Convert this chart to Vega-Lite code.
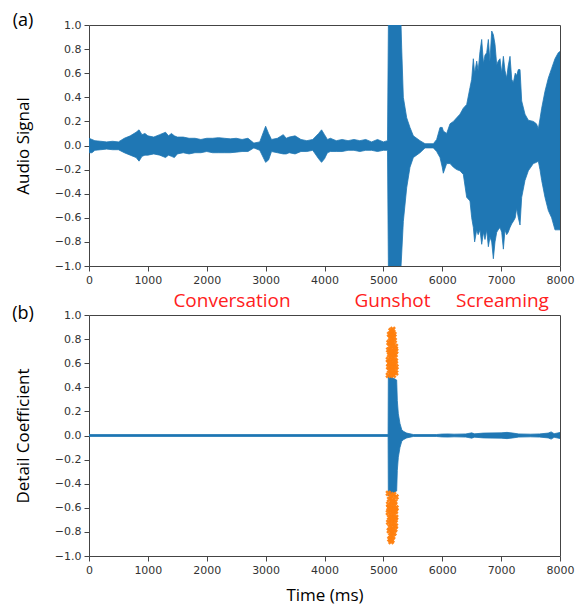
{
  "$schema": "https://vega.github.io/schema/vega-lite/v6.json",
  "padding": {"left": 11, "top": 11, "right": 0, "bottom": 0},
  "autosize": {"type": "pad"},
  "background": "white",
  "spacing": 49,
  "bounds": "flush",
  "config": {
    "view": {"stroke": "#444", "strokeWidth": 1},
    "axis": {
      "domain": false,
      "grid": false,
      "ticks": true,
      "tickColor": "#444",
      "tickSize": 5,
      "labelFont": "DejaVu Sans",
      "labelFontSize": 11,
      "labelColor": "#333",
      "labelPadding": 3,
      "labelOverlap": false,
      "labelFlush": false,
      "labelBound": false,
      "titleFont": "Open Sans",
      "titleFontSize": 17,
      "titleFontWeight": "normal",
      "titleColor": "#000"
    },
    "axisY": {"labelOverlap": false}
  },
  "datasets": {
    "audio": [
      {"t": 0, "hi": 0.06, "lo": -0.06},
      {"t": 50, "hi": 0.05, "lo": -0.06},
      {"t": 100, "hi": 0.04, "lo": -0.04},
      {"t": 200, "hi": 0.035, "lo": -0.035},
      {"t": 300, "hi": 0.03, "lo": -0.03},
      {"t": 400, "hi": 0.035, "lo": -0.035},
      {"t": 500, "hi": 0.03, "lo": -0.035},
      {"t": 600, "hi": 0.06, "lo": -0.06},
      {"t": 700, "hi": 0.08, "lo": -0.08},
      {"t": 800, "hi": 0.11, "lo": -0.1},
      {"t": 850, "hi": 0.13, "lo": -0.13},
      {"t": 900, "hi": 0.09, "lo": -0.09},
      {"t": 950, "hi": 0.1, "lo": -0.08},
      {"t": 1000, "hi": 0.08, "lo": -0.08},
      {"t": 1100, "hi": 0.07, "lo": -0.07},
      {"t": 1200, "hi": 0.09, "lo": -0.08},
      {"t": 1300, "hi": 0.11, "lo": -0.1},
      {"t": 1350, "hi": 0.08, "lo": -0.08},
      {"t": 1400, "hi": 0.1, "lo": -0.09},
      {"t": 1450, "hi": 0.08, "lo": -0.1},
      {"t": 1500, "hi": 0.07, "lo": -0.07},
      {"t": 1600, "hi": 0.07, "lo": -0.06},
      {"t": 1700, "hi": 0.06, "lo": -0.07},
      {"t": 1800, "hi": 0.06, "lo": -0.06},
      {"t": 1900, "hi": 0.05, "lo": -0.06},
      {"t": 2000, "hi": 0.06, "lo": -0.05},
      {"t": 2100, "hi": 0.06, "lo": -0.06},
      {"t": 2200, "hi": 0.065, "lo": -0.06},
      {"t": 2300, "hi": 0.06, "lo": -0.06},
      {"t": 2400, "hi": 0.055, "lo": -0.06},
      {"t": 2500, "hi": 0.06, "lo": -0.055},
      {"t": 2600, "hi": 0.05, "lo": -0.05},
      {"t": 2700, "hi": 0.06, "lo": -0.05},
      {"t": 2800, "hi": 0.02, "lo": -0.02},
      {"t": 2900, "hi": 0.03, "lo": -0.04},
      {"t": 3000, "hi": 0.16, "lo": -0.14},
      {"t": 3050, "hi": 0.1, "lo": -0.12},
      {"t": 3100, "hi": 0.05, "lo": -0.05},
      {"t": 3200, "hi": 0.06, "lo": -0.06},
      {"t": 3300, "hi": 0.09, "lo": -0.07},
      {"t": 3350, "hi": 0.06, "lo": -0.07},
      {"t": 3400, "hi": 0.07, "lo": -0.06},
      {"t": 3500, "hi": 0.08, "lo": -0.07},
      {"t": 3600, "hi": 0.05, "lo": -0.05},
      {"t": 3700, "hi": 0.04, "lo": -0.05},
      {"t": 3800, "hi": 0.05, "lo": -0.04},
      {"t": 3900, "hi": 0.1, "lo": -0.11},
      {"t": 3950, "hi": 0.13, "lo": -0.14},
      {"t": 4000, "hi": 0.09, "lo": -0.11},
      {"t": 4050, "hi": 0.05, "lo": -0.06},
      {"t": 4100, "hi": 0.06, "lo": -0.05},
      {"t": 4200, "hi": 0.04, "lo": -0.05},
      {"t": 4300, "hi": 0.05, "lo": -0.05},
      {"t": 4400, "hi": 0.04, "lo": -0.04},
      {"t": 4500, "hi": 0.05, "lo": -0.04},
      {"t": 4600, "hi": 0.04, "lo": -0.05},
      {"t": 4700, "hi": 0.05, "lo": -0.04},
      {"t": 4800, "hi": 0.03, "lo": -0.04},
      {"t": 4900, "hi": 0.05, "lo": -0.05},
      {"t": 5000, "hi": 0.03, "lo": -0.04},
      {"t": 5070, "hi": 0.04, "lo": -0.04},
      {"t": 5085, "hi": 1.0, "lo": -1.0},
      {"t": 5300, "hi": 1.0, "lo": -1.0},
      {"t": 5311, "hi": 0.81, "lo": -0.9},
      {"t": 5339, "hi": 0.4, "lo": -0.63},
      {"t": 5396, "hi": 0.23, "lo": -0.35},
      {"t": 5452, "hi": 0.15, "lo": -0.18},
      {"t": 5509, "hi": 0.08, "lo": -0.1},
      {"t": 5622, "hi": 0.04, "lo": -0.06},
      {"t": 5707, "hi": 0.015, "lo": -0.02},
      {"t": 5849, "hi": 0.015, "lo": -0.02},
      {"t": 5905, "hi": 0.05, "lo": -0.05},
      {"t": 5962, "hi": 0.15, "lo": -0.1},
      {"t": 6000, "hi": 0.15, "lo": -0.18},
      {"t": 6018, "hi": 0.12, "lo": -0.23},
      {"t": 6075, "hi": 0.1, "lo": -0.15},
      {"t": 6132, "hi": 0.18, "lo": -0.15},
      {"t": 6190, "hi": 0.2, "lo": -0.18},
      {"t": 6245, "hi": 0.23, "lo": -0.2},
      {"t": 6301, "hi": 0.26, "lo": -0.21},
      {"t": 6358, "hi": 0.31, "lo": -0.24},
      {"t": 6415, "hi": 0.34, "lo": -0.43},
      {"t": 6471, "hi": 0.48, "lo": -0.46},
      {"t": 6500, "hi": 0.55, "lo": -0.6},
      {"t": 6528, "hi": 0.72, "lo": -0.68},
      {"t": 6550, "hi": 0.6, "lo": -0.8},
      {"t": 6585, "hi": 0.7, "lo": -0.7},
      {"t": 6610, "hi": 0.62, "lo": -0.74},
      {"t": 6641, "hi": 0.78, "lo": -0.7},
      {"t": 6670, "hi": 0.88, "lo": -0.82},
      {"t": 6700, "hi": 0.68, "lo": -0.72},
      {"t": 6726, "hi": 0.75, "lo": -0.78},
      {"t": 6755, "hi": 0.77, "lo": -0.7},
      {"t": 6783, "hi": 0.88, "lo": -0.84},
      {"t": 6810, "hi": 0.7, "lo": -0.76},
      {"t": 6840, "hi": 0.95, "lo": -0.8},
      {"t": 6868, "hi": 0.92, "lo": -0.94},
      {"t": 6896, "hi": 0.84, "lo": -0.8},
      {"t": 6925, "hi": 0.67, "lo": -0.72},
      {"t": 6950, "hi": 0.7, "lo": -0.7},
      {"t": 6981, "hi": 0.72, "lo": -0.68},
      {"t": 7010, "hi": 0.6, "lo": -0.72},
      {"t": 7038, "hi": 0.74, "lo": -0.86},
      {"t": 7066, "hi": 0.62, "lo": -0.7},
      {"t": 7094, "hi": 0.56, "lo": -0.74},
      {"t": 7120, "hi": 0.66, "lo": -0.72},
      {"t": 7151, "hi": 0.74, "lo": -0.68},
      {"t": 7180, "hi": 0.55, "lo": -0.65},
      {"t": 7207, "hi": 0.52, "lo": -0.63},
      {"t": 7240, "hi": 0.6, "lo": -0.6},
      {"t": 7264, "hi": 0.58, "lo": -0.52},
      {"t": 7292, "hi": 0.63, "lo": -0.6},
      {"t": 7321, "hi": 0.63, "lo": -0.66},
      {"t": 7349, "hi": 0.37, "lo": -0.43},
      {"t": 7405, "hi": 0.26, "lo": -0.29},
      {"t": 7462, "hi": 0.21, "lo": -0.21},
      {"t": 7547, "hi": 0.2, "lo": -0.15},
      {"t": 7600, "hi": 0.18, "lo": -0.14},
      {"t": 7632, "hi": 0.14, "lo": -0.13},
      {"t": 7660, "hi": 0.22, "lo": -0.2},
      {"t": 7689, "hi": 0.31, "lo": -0.29},
      {"t": 7745, "hi": 0.45, "lo": -0.43},
      {"t": 7802, "hi": 0.56, "lo": -0.54},
      {"t": 7858, "hi": 0.64, "lo": -0.6},
      {"t": 7915, "hi": 0.72, "lo": -0.7},
      {"t": 7971, "hi": 0.77, "lo": -0.7},
      {"t": 8000, "hi": 0.78, "lo": -0.7}
    ],
    "detail": [
      {"t": 0, "hi": 0.008, "lo": -0.008},
      {"t": 5080, "hi": 0.008, "lo": -0.008},
      {"t": 5084, "hi": 0.5, "lo": -0.5},
      {"t": 5226, "hi": 0.46, "lo": -0.46},
      {"t": 5237, "hi": 0.29, "lo": -0.29},
      {"t": 5254, "hi": 0.18, "lo": -0.18},
      {"t": 5282, "hi": 0.1, "lo": -0.1},
      {"t": 5311, "hi": 0.05, "lo": -0.05},
      {"t": 5339, "hi": 0.035, "lo": -0.035},
      {"t": 5396, "hi": 0.02, "lo": -0.02},
      {"t": 5509, "hi": 0.008, "lo": -0.008},
      {"t": 5900, "hi": 0.008, "lo": -0.008},
      {"t": 6000, "hi": 0.012, "lo": -0.012},
      {"t": 6100, "hi": 0.013, "lo": -0.013},
      {"t": 6200, "hi": 0.011, "lo": -0.011},
      {"t": 6400, "hi": 0.013, "lo": -0.013},
      {"t": 6500, "hi": 0.022, "lo": -0.022},
      {"t": 6550, "hi": 0.014, "lo": -0.014},
      {"t": 6700, "hi": 0.02, "lo": -0.02},
      {"t": 7000, "hi": 0.022, "lo": -0.022},
      {"t": 7100, "hi": 0.026, "lo": -0.026},
      {"t": 7200, "hi": 0.02, "lo": -0.02},
      {"t": 7300, "hi": 0.013, "lo": -0.013},
      {"t": 7500, "hi": 0.011, "lo": -0.011},
      {"t": 7650, "hi": 0.013, "lo": -0.013},
      {"t": 7800, "hi": 0.02, "lo": -0.02},
      {"t": 7850, "hi": 0.03, "lo": -0.03},
      {"t": 7900, "hi": 0.015, "lo": -0.015},
      {"t": 8000, "hi": 0.025, "lo": -0.025}
    ],
    "peaks": [
      {"t": 5085, "v": 0.5}, {"t": 5130, "v": 0.51}, {"t": 5170, "v": 0.5}, {"t": 5210, "v": 0.52},
      {"t": 5105, "v": 0.54}, {"t": 5150, "v": 0.55}, {"t": 5195, "v": 0.54}, {"t": 5090, "v": 0.57},
      {"t": 5140, "v": 0.58}, {"t": 5180, "v": 0.58}, {"t": 5215, "v": 0.57}, {"t": 5115, "v": 0.61},
      {"t": 5160, "v": 0.6}, {"t": 5205, "v": 0.62}, {"t": 5085, "v": 0.63}, {"t": 5135, "v": 0.64},
      {"t": 5180, "v": 0.65}, {"t": 5105, "v": 0.67}, {"t": 5150, "v": 0.68}, {"t": 5200, "v": 0.67},
      {"t": 5090, "v": 0.71}, {"t": 5140, "v": 0.7}, {"t": 5190, "v": 0.72}, {"t": 5115, "v": 0.74},
      {"t": 5165, "v": 0.75}, {"t": 5205, "v": 0.74}, {"t": 5095, "v": 0.77}, {"t": 5145, "v": 0.78},
      {"t": 5185, "v": 0.79}, {"t": 5120, "v": 0.81}, {"t": 5165, "v": 0.82}, {"t": 5105, "v": 0.84},
      {"t": 5150, "v": 0.85}, {"t": 5180, "v": 0.84}, {"t": 5130, "v": 0.87}, {"t": 5160, "v": 0.88},
      {"t": 5125, "v": 0.77}, {"t": 5190, "v": 0.61}, {"t": 5145, "v": 0.52}, {"t": 5115, "v": 0.69},
      {"t": 5170, "v": 0.69}, {"t": 5135, "v": 0.83}, {"t": 5100, "v": 0.6}, {"t": 5210, "v": 0.7},
      {"t": 5085, "v": -0.48}, {"t": 5135, "v": -0.5}, {"t": 5175, "v": -0.49}, {"t": 5215, "v": -0.51},
      {"t": 5105, "v": -0.53}, {"t": 5150, "v": -0.54}, {"t": 5195, "v": -0.55}, {"t": 5090, "v": -0.57},
      {"t": 5140, "v": -0.58}, {"t": 5185, "v": -0.58}, {"t": 5215, "v": -0.6}, {"t": 5115, "v": -0.61},
      {"t": 5165, "v": -0.62}, {"t": 5205, "v": -0.63}, {"t": 5085, "v": -0.64}, {"t": 5135, "v": -0.65},
      {"t": 5180, "v": -0.66}, {"t": 5105, "v": -0.68}, {"t": 5150, "v": -0.69}, {"t": 5200, "v": -0.7},
      {"t": 5090, "v": -0.72}, {"t": 5140, "v": -0.73}, {"t": 5185, "v": -0.73}, {"t": 5115, "v": -0.76},
      {"t": 5160, "v": -0.77}, {"t": 5205, "v": -0.75}, {"t": 5100, "v": -0.79}, {"t": 5145, "v": -0.8},
      {"t": 5180, "v": -0.81}, {"t": 5125, "v": -0.83}, {"t": 5160, "v": -0.84}, {"t": 5110, "v": -0.86},
      {"t": 5145, "v": -0.87}, {"t": 5130, "v": -0.88}, {"t": 5190, "v": -0.62}, {"t": 5125, "v": -0.7},
      {"t": 5165, "v": -0.55}, {"t": 5195, "v": -0.78}, {"t": 5095, "v": -0.6}, {"t": 5210, "v": -0.68}
    ],
    "labels": [
      {"label": "Conversation", "t": 2429},
      {"label": "Gunshot", "t": 5155},
      {"label": "Screaming", "t": 7023}
    ],
    "tagA": [{"tag": "(a)", "t": -1121, "v": 1.033}],
    "tagB": [{"tag": "(b)", "t": -1121, "v": 1.008}]
  },
  "vconcat": [
    {
      "width": 471,
      "height": 241,
      "layer": [
        {
          "data": {"name": "audio"},
          "mark": {"type": "area", "color": "#1f77b4", "stroke": "#1f77b4", "strokeWidth": 0.8, "clip": true},
          "encoding": {
            "x": {"field": "t", "type": "quantitative", "scale": {"domain": [0, 8000], "nice": false},
                  "axis": {"title": null, "tickCount": 8, "format": "d", "labelPadding": 3, "labelOverlap": false, "labelFlush": false}},
            "y": {"field": "hi", "type": "quantitative", "scale": {"domain": [-1, 1], "nice": false},
                  "axis": {"title": "Audio Signal", "titlePadding": 22, "tickCount": 10, "format": ".1f", "labelOverlap": false, "labelFlush": false}},
            "y2": {"field": "lo"}
          }
        },
        {
          "data": {"name": "tagA"},
          "mark": {"type": "text", "font": "Open Sans", "fontSize": 18, "color": "#000", "baseline": "middle", "align": "center", "clip": false},
          "encoding": {
            "x": {"field": "t", "type": "quantitative"},
            "y": {"field": "v", "type": "quantitative"},
            "text": {"field": "tag"}
          }
        }
      ]
    },
    {
      "width": 471,
      "height": 241,
      "layer": [
        {
          "data": {"name": "detail"},
          "mark": {"type": "area", "color": "#1f77b4", "stroke": "#1f77b4", "strokeWidth": 0.8, "clip": true},
          "encoding": {
            "x": {"field": "t", "type": "quantitative", "scale": {"domain": [0, 8000], "nice": false},
                  "axis": {"title": "Time (ms)", "titlePadding": 12, "tickCount": 8, "format": "d", "labelPadding": 3, "labelOverlap": false, "labelFlush": false}},
            "y": {"field": "hi", "type": "quantitative", "scale": {"domain": [-1, 1], "nice": false},
                  "axis": {"title": "Detail Coefficient", "titlePadding": 22, "tickCount": 10, "format": ".1f", "labelOverlap": false, "labelFlush": false}},
            "y2": {"field": "lo"}
          }
        },
        {
          "data": {"name": "peaks"},
          "mark": {"type": "point", "shape": "cross", "angle": 45, "filled": true, "size": 40, "color": "#ff7f0e", "opacity": 0.95},
          "encoding": {
            "x": {"field": "t", "type": "quantitative"},
            "y": {"field": "v", "type": "quantitative"}
          }
        },
        {
          "data": {"name": "labels"},
          "mark": {"type": "text", "color": "#ff2020", "font": "Open Sans", "fontSize": 19, "baseline": "middle", "clip": false},
          "encoding": {
            "x": {"field": "t", "type": "quantitative"},
            "y": {"datum": 1.115},
            "text": {"field": "label"}
          }
        },
        {
          "data": {"name": "tagB"},
          "mark": {"type": "text", "font": "Open Sans", "fontSize": 18, "color": "#000", "baseline": "middle", "align": "center", "clip": false},
          "encoding": {
            "x": {"field": "t", "type": "quantitative"},
            "y": {"field": "v", "type": "quantitative"},
            "text": {"field": "tag"}
          }
        }
      ]
    }
  ]
}
